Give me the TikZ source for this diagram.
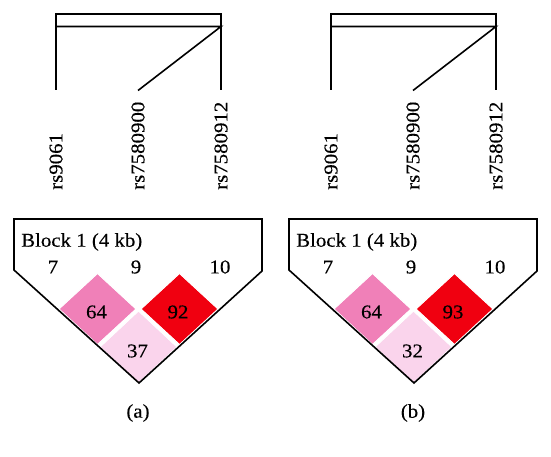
\documentclass[tikz,border=0pt]{standalone}
\usepackage{fontspec}
\setmainfont{Liberation Serif}[FakeStretch=1.07, FakeBold=0.3]
\definecolor{ldhi}{RGB}{240,0,16}
\definecolor{ldmid}{RGB}{240,128,184}
\definecolor{ldlow}{RGB}{250,212,236}
\tikzset{
  ln/.style={line width=1.6pt, black},
  snp/.style={rotate=90, anchor=west, inner sep=0pt, font=\fontsize{19.5}{22}\selectfont},
  lab/.style={inner sep=0pt, font=\fontsize{19.5}{22}\selectfont},
  cell/.style={draw=white, line width=0.7pt},
}
\newcommand{\ldpanel}[5]{%
\begin{scope}[xshift=#1]
  % haplotype bracket
  \coordinate (#2tl) at (56,14);
  \coordinate (#2tr) at (221,14);
  \coordinate (#2ml) at (56,26.5);
  \coordinate (#2mr) at (221,26.5);
  \coordinate (#2b1) at (56,90);
  \coordinate (#2b2) at (138,90.5);
  \coordinate (#2b3) at (221,90);
  \draw[ln] (#2b1) -- (#2tl) -- (#2tr) -- (#2b3);
  \draw[ln] (#2ml) -- (#2mr) -- (#2b2);
  % SNP names
  \node[snp] (#2s1) at (56,190) {rs9061};
  \node[snp] (#2s2) at (138,190) {rs7580900};
  \node[snp] (#2s3) at (221,190) {rs7580912};
  % LD block
  \coordinate (#2p1) at (14,219);
  \coordinate (#2p2) at (262,219);
  \coordinate (#2p3) at (262,271);
  \coordinate (#2p4) at (139,383);
  \coordinate (#2p5) at (14,270);
  \fill[cell, fill=ldmid] (97.5,273.5) -- (136,309) -- (97.5,344.5) -- (59,309) -- cycle;
  \fill[cell, fill=ldhi] (179.5,273.5) -- (218,309) -- (179.5,344.5) -- (141,309) -- cycle;
  \fill[cell, fill=ldlow] (138.5,311) -- (177,347) -- (138.5,383) -- (100,347) -- cycle;
  \draw[cell] (97.5,273.5) -- (136,309) -- (97.5,344.5) -- (59,309) -- cycle;
  \draw[cell] (179.5,273.5) -- (218,309) -- (179.5,344.5) -- (141,309) -- cycle;
  \draw[cell] (138.5,311) -- (177,347) -- (138.5,383) -- (100,347) -- cycle;
  \draw[ln, line join=miter] (#2p1) -- (#2p2) -- (#2p3) -- (#2p4) -- (#2p5) -- cycle;
  \node[lab, anchor=west] (#2blk) at (21,242) {Block 1 (4 kb)};
  \node[lab] (#2n1) at (53,267) {7};
  \node[lab] (#2n2) at (136,267) {9};
  \node[lab] (#2n3) at (220,267) {10};
  \node[lab] (#2c1) at (96.5,312) {64};
  \node[lab] (#2c2) at (178,312) {#3};
  \node[lab] (#2c3) at (137.5,351) {#4};
  \node[lab] (#2cap) at (138,413) {#5};
\end{scope}}
\begin{document}
\begin{tikzpicture}[x=1pt, y=-1pt]
  \useasboundingbox (0,0) rectangle (551,457);
  \ldpanel{0pt}{a}{92}{37}{(a)}
  \ldpanel{275pt}{b}{93}{32}{(b)}
\end{tikzpicture}
\end{document}
